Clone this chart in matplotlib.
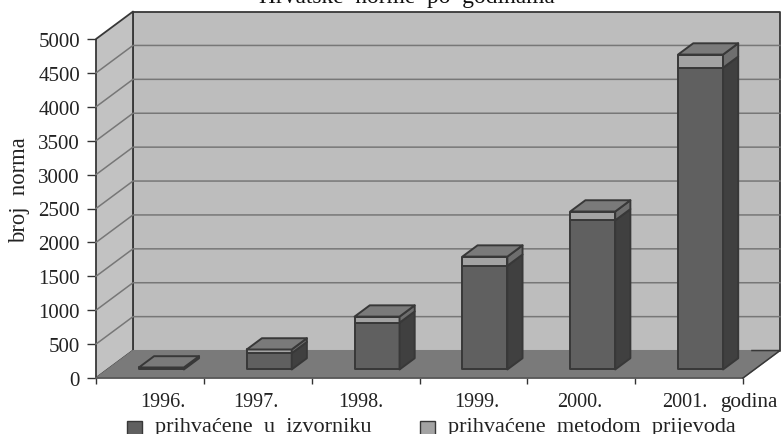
import matplotlib
matplotlib.use("Agg")
import matplotlib.pyplot as plt
from matplotlib.patches import Polygon, Rectangle

# data
years = ["1996.", "1997.", "1998.", "1999.", "2000.", "2001."]
izvornik = [20, 240, 690, 1530, 2200, 4450]
prijevod = [10, 55, 90, 135, 130, 195]
y_ticks = [0, 500, 1000, 1500, 2000, 2500, 3000, 3500, 4000, 4500, 5000]

title = "Hrvatske  norme  po  godinama"
ylabel = "broj  norma"
legend_labels = ["prihvaćene  u  izvorniku", "prihvaćene  metodom  prijevoda"]

# fake 3d: how far the back wall sits behind the front plane, in data units
DEPTH_X = 0.343
DEPTH_Y = 405
BAR_FRONT = 0.31
BAR_BACK = 0.72
BAR_WIDTH = 0.417

WALL = "#bdbdbd"
SIDE_WALL = "#c2c2c2"
FLOOR = "#7a7a7a"
GRID = "#777777"
EDGE = "#383838"
FRONT_LOW = "#606060"
FRONT_HIGH = "#a3a3a3"
SIDE_LOW = "#404040"
SIDE_HIGH = "#6e6e6e"
TOP = "#7a7a7a"

W, H = 782, 435
plt.rcParams["font.family"] = ["Liberation Serif", "DejaVu Serif"]
plt.rcParams["font.size"] = 14.5


def pt(x, y, d):
    # project a point of the box onto the front plane of the axes
    return (x + d * DEPTH_X, y + d * DEPTH_Y)


def poly(ax, points, color, edge=EDGE, lw=1.4, z=3):
    ax.add_patch(Polygon(points, closed=True, facecolor=color, edgecolor=edge,
                         linewidth=lw, zorder=z, clip_on=False, joinstyle="round"))


def draw_box(ax, x, y0, y1, front, side, z):
    x0 = x - BAR_WIDTH / 2
    x1 = x + BAR_WIDTH / 2
    poly(ax, [pt(x0, y0, BAR_FRONT), pt(x1, y0, BAR_FRONT),
              pt(x1, y1, BAR_FRONT), pt(x0, y1, BAR_FRONT)], front, z=z)
    poly(ax, [pt(x1, y0, BAR_FRONT), pt(x1, y0, BAR_BACK),
              pt(x1, y1, BAR_BACK), pt(x1, y1, BAR_FRONT)], side, z=z)


def fig_text(fig, px, py, s, **kw):
    fig.text(px / W, 1 - py / H, s, **kw)


fig = plt.figure(figsize=(W / 100, H / 100), dpi=100)
ax = fig.add_axes([96 / W, 1 - 379 / H, 647 / W, 339 / H])
n = len(years)
ax.set_xlim(0, n)
ax.set_ylim(0, 5000)
ax.patch.set_visible(False)
for s in ax.spines.values():
    s.set_visible(False)

# walls and floor
poly(ax, [pt(0, 0, 1), pt(n, 0, 1), pt(n, 5000, 1), pt(0, 5000, 1)], WALL, z=1, lw=1.3)
poly(ax, [pt(0, 0, 0), pt(0, 0, 1), pt(0, 5000, 1), pt(0, 5000, 0)], SIDE_WALL, z=1, lw=1.3)
for v in y_ticks[1:-1]:
    ax.plot(*zip(pt(0, v, 0), pt(0, v, 1), pt(n, v, 1)), color=GRID, lw=1.1,
            zorder=2, clip_on=False)
poly(ax, [pt(0, 0, 0), pt(n, 0, 0), pt(n, 0, 1), pt(0, 0, 1)], FLOOR, edge=FLOOR, lw=0.8, z=2)
ax.plot(*zip(pt(0, 0, 0), pt(n, 0, 0)), color="#555555", lw=1.2, zorder=2, clip_on=False)
ax.plot(*zip(pt(n - 0.26, 0, 1), pt(n, 0, 1), pt(n, 0, 0)), color=EDGE, lw=1.1,
        zorder=2, clip_on=False)

# stacked bars
for i in range(n):
    x = i + 0.5
    low = izvornik[i]
    high = izvornik[i] + prijevod[i]
    draw_box(ax, x, 0, low, FRONT_LOW, SIDE_LOW, 3 + i)
    draw_box(ax, x, low, high, FRONT_HIGH, SIDE_HIGH, 3 + i)
    x0 = x - BAR_WIDTH / 2
    x1 = x + BAR_WIDTH / 2
    poly(ax, [pt(x0, high, BAR_FRONT), pt(x1, high, BAR_FRONT),
              pt(x1, high, BAR_BACK), pt(x0, high, BAR_BACK)], TOP, z=3 + i)

# axes ticks
ax.set_yticks(y_ticks)
ax.set_xticks(range(n + 1))
ax.set_xticklabels([])
ax.tick_params(axis="y", length=6.5, width=1, color="#333333", pad=5, labelsize=15,
               labelcolor="#222222")
ax.tick_params(axis="x", length=4.5, width=1, color="#333333")

# the labels are not centred under the bars in the original
label_x = [163, 255.5, 360.5, 476.5, 580, 685]
for px, lab in zip(label_x, years):
    fig_text(fig, px, 407, lab, ha="center", va="baseline", color="#222222")
fig_text(fig, 720, 407, "godina", ha="left", va="baseline", color="#222222", fontsize=15.2)

fig_text(fig, 407, 2.5, title, ha="center", va="baseline", color="#111111", fontsize=16.8)
fig_text(fig, 20, 190, ylabel, rotation=90, ha="center", va="center", color="#222222",
         fontsize=16.3)

# legend
for px, tx, col, lab in zip([127, 420], [155, 448], [FRONT_LOW, FRONT_HIGH], legend_labels):
    fig.add_artist(Rectangle((px / W, 1 - 436 / H), 15 / W, 14 / H, transform=fig.transFigure,
                             facecolor=col, edgecolor=EDGE, linewidth=1))
    fig_text(fig, tx, 432, lab, ha="left", va="baseline", color="#222222", fontsize=16)

fig.savefig("out.png", dpi=100)
